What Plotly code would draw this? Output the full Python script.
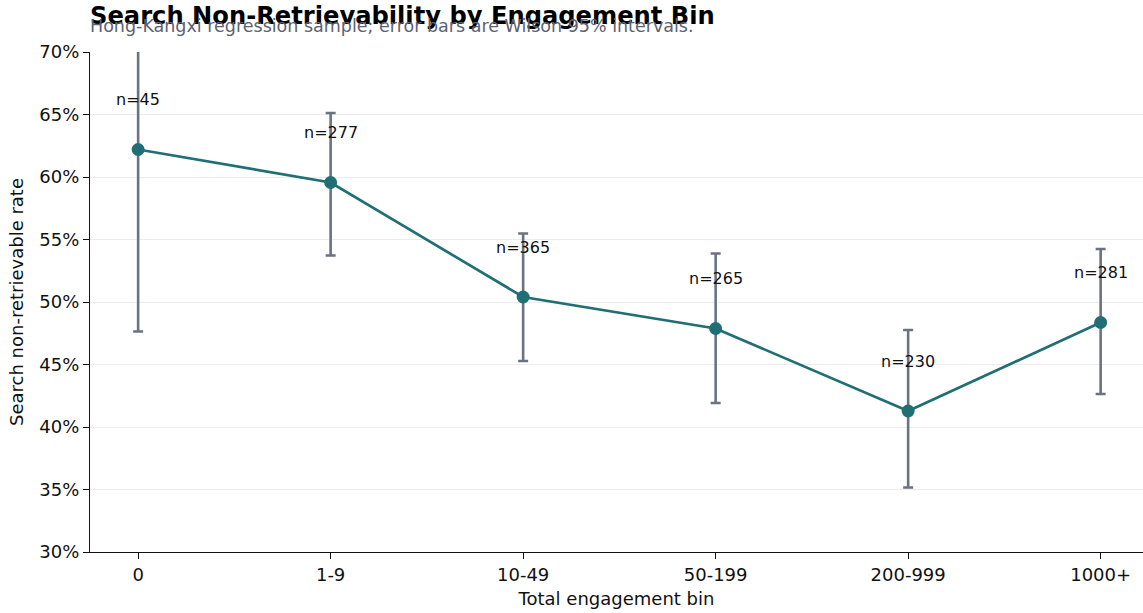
import plotly.graph_objects as go

# Engagement bins and per-bin search non-retrievability
bins = ["0", "1-9", "10-49", "50-199", "200-999", "1000+"]
rates = [0.622, 0.5956, 0.504, 0.4788, 0.4128, 0.4836]
ci_low = [0.4764, 0.5372, 0.4528, 0.4192, 0.3516, 0.4264]
ci_high = [0.749, 0.6512, 0.5548, 0.5388, 0.4776, 0.5424]
counts = [45, 277, 365, 265, 230, 281]

err_plus = [h - r for h, r in zip(ci_high, rates)]
err_minus = [r - l for r, l in zip(rates, ci_low)]

FONT = "DejaVu Sans"
LINE = "#1f6f75"
ERR = "#6b7280"

fig = go.Figure()
fig.add_trace(go.Scatter(
    x=bins, y=rates, mode="lines+markers",
    line=dict(color=LINE, width=2.7),
    marker=dict(color=LINE, size=13),
    error_y=dict(type="data", symmetric=False, array=err_plus, arrayminus=err_minus,
                 color=ERR, thickness=2.6, width=5),
    showlegend=False,
))

for b, r, n in zip(bins, rates, counts):
    fig.add_annotation(x=b, y=r + 0.04, text=f"n={n}", showarrow=False,
                       font=dict(family=FONT, size=16, color="#111111"),
                       xanchor="center", yanchor="middle")

fig.add_annotation(xref="paper", yref="paper", x=0, y=1, xanchor="left", yanchor="bottom",
                   xshift=-2, yshift=20, text="<b>Search Non-Retrievability by Engagement Bin</b>",
                   showarrow=False, font=dict(family=FONT, size=24.2, color="#000000"))
fig.add_annotation(xref="paper", yref="paper", x=0, y=1, xanchor="left", yanchor="bottom",
                   xshift=-2, yshift=14, text="Hong-Kangxi regression sample; error bars are Wilson 95% intervals.",
                   showarrow=False, font=dict(family=FONT, size=17.5, color="#5b6372"))

fig.update_layout(
    width=1143, height=613,
    margin=dict(l=90, r=0, t=52, b=61),
    paper_bgcolor="white", plot_bgcolor="white",
    font=dict(family=FONT, size=18, color="#111111"),
)
fig.update_xaxes(
    range=[-0.25, 5.22], showline=True, linecolor="#111111", linewidth=1.3,
    ticks="outside", ticklen=6, tickcolor="#111111", showgrid=False,
    title=dict(text="Total engagement bin", font=dict(size=18), standoff=8),
    tickfont=dict(size=18),
)
fig.update_yaxes(
    range=[0.30, 0.70], dtick=0.05, tickformat=".0%", showline=True,
    linecolor="#111111", linewidth=1.3, ticks="outside", ticklen=6, tickcolor="#111111",
    showgrid=True, gridcolor="#ececec", gridwidth=1, zeroline=False,
    title=dict(text="Search non-retrievable rate", font=dict(size=18), standoff=10),
    tickfont=dict(size=18),
)

fig.write_html("out.html")
